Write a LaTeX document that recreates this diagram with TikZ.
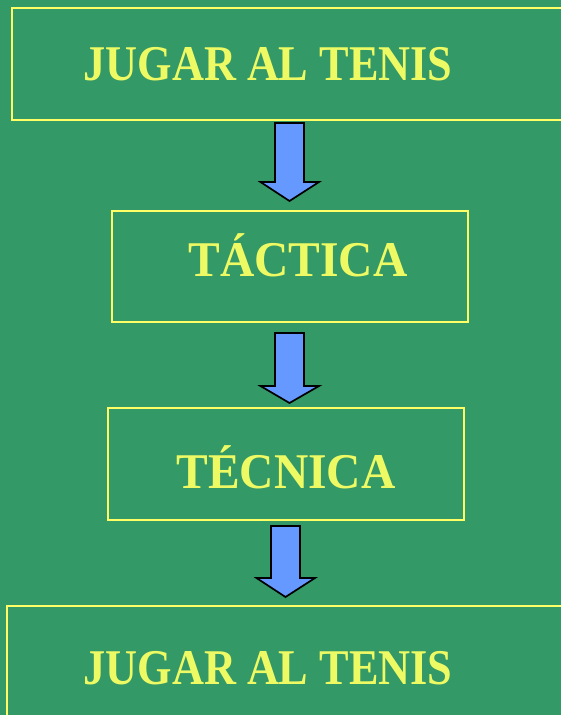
\documentclass[tikz,border=0pt]{standalone}
\usepackage{fontspec}
\setmainfont{Liberation Serif}
\definecolor{bggreen}{HTML}{339966}
\definecolor{boxyellow}{HTML}{FFFF66}
\definecolor{txtyellow}{HTML}{EEFA64}
\definecolor{arrowblue}{HTML}{6699FF}
\tikzset{
  boxframe/.style={draw=boxyellow, line width=1.6pt},
  label/.style={text=txtyellow, font=\fontsize{50}{50}\selectfont\bfseries, anchor=base, inner sep=0pt},
  blockarrow/.style={draw=black, fill=arrowblue, line width=1.7pt, line join=miter}
}
\newcommand{\downarrowblock}[5]{% xleft xright ytop ywing ytip
  \draw[blockarrow] (#1,#3) -- (#2,#3) -- (#2,#4) -- (#2+15,#4) -- ({(#1+#2)/2},#5) -- (#1-14.5,#4) -- (#1,#4) -- cycle;
}
\begin{document}
\begin{tikzpicture}[x=1pt,y=-1pt]
  \fill[bggreen] (0,0) rectangle (561,715);
  \useasboundingbox (0,0) rectangle (561,715);
  % boxes
  \draw[boxframe] (12,8) rectangle (580,120);
  \node[label] (t1) at (268,80) {\scalebox{0.885}[1]{JUGAR AL TENIS}};
  \draw[boxframe] (112,211) rectangle (468,322);
  \node[label] (t2) at (298,276) {\scalebox{0.95}[1]{TÁCTICA}};
  \draw[boxframe] (108,408) rectangle (464,520);
  \node[label] (t3) at (286,488) {\scalebox{0.95}[1]{TÉCNICA}};
  \draw[boxframe] (7,606) rectangle (580,730);
  \node[label] (t4) at (268,684) {\scalebox{0.885}[1]{JUGAR AL TENIS}};
  % arrows
  \downarrowblock{275}{304}{123}{182}{201}
  \downarrowblock{275}{304}{333}{386}{403}
  \downarrowblock{271}{300}{526}{578}{597}
\end{tikzpicture}
\end{document}
